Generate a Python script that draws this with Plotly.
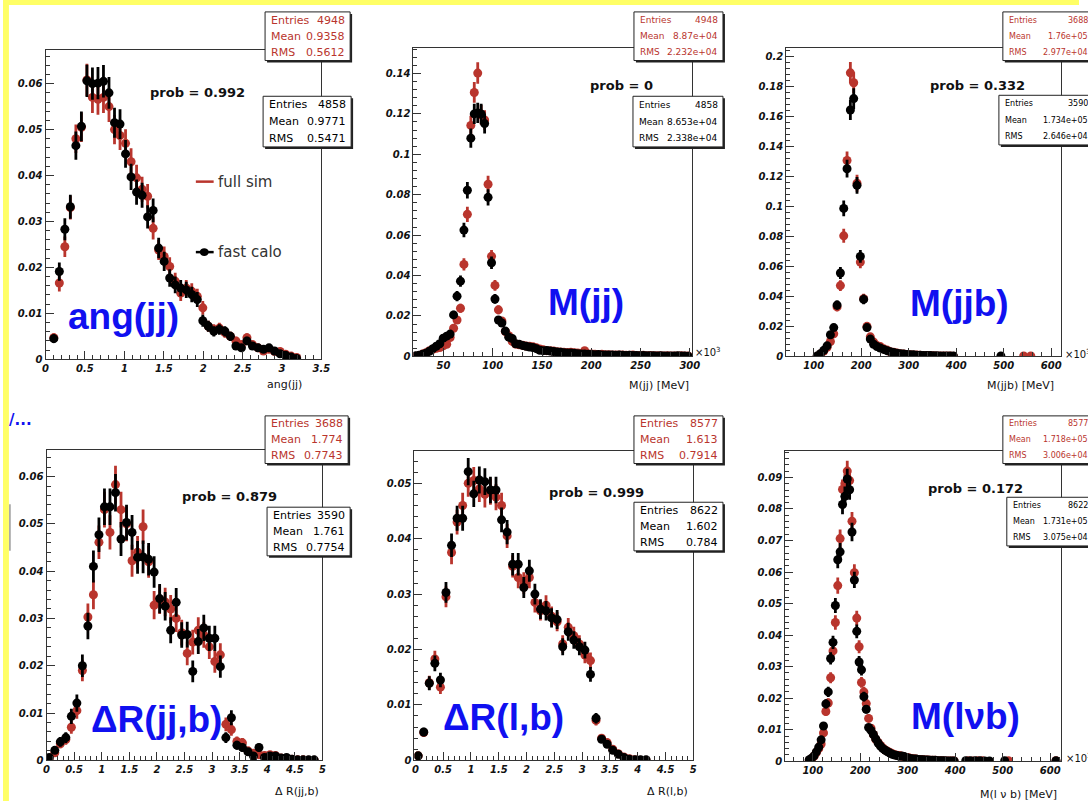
import numpy as np
import plotly.graph_objects as go

W, H = 1088, 807
RED = "#b9352d"
BLK = "#000000"
FRAME = "#333333"
BLUE = "#1010f0"

# ---------------- data ----------------
# Panel 1: ang(jj)
ang_x = [0.105,0.175,0.245,0.315,0.385,0.455,0.525,0.595,0.665,0.735,0.805,0.875,0.945,1.015,1.085,
         1.155,1.225,1.295,1.365,1.435,1.505,1.575,1.645,1.715,1.785,1.855,1.925,1.995,2.065,2.135,
         2.205,2.275,2.345,2.415,2.485,2.555,2.625,2.695,2.765,2.835,2.905,2.975,3.045,3.115,3.185]
ang_fast = [0.0045,0.0191,0.0283,0.0332,0.0465,0.0507,0.0606,0.0600,0.0601,0.0605,0.0580,0.0515,0.0512,0.0447,0.0397,
            0.0364,0.0357,0.0310,0.0324,0.0242,0.0213,0.0177,0.0162,0.0155,0.0151,0.0141,0.0130,0.0084,0.0072,0.0061,
            0.0065,0.0061,0.0050,0.0029,0.0025,0.0040,0.0029,0.0025,0.0022,0.0025,0.0018,0.0012,0.0009,0.0005,0.0002]
ang_full = [0.0047,0.0166,0.0245,0.0330,0.0480,0.0505,0.0608,0.0570,0.0566,0.0570,0.0550,0.0500,0.0487,0.0470,0.0430,
            0.0395,0.0370,0.0355,0.0285,0.0238,0.0224,0.0202,0.0170,0.0144,0.0155,0.0148,0.0137,0.0112,0.0072,0.0065,
            0.0068,0.0058,0.0050,0.0040,0.0032,0.0047,0.0032,0.0025,0.0018,0.0022,0.0017,0.0017,0.0011,0.0007,0.0004]

# Panel 2: M(jj) [x10^3 MeV]
mjj_x = [21.75,25.25,28.75,32.25,35.75,39.25,42.75,46.25,49.75,53.25,56.75,60.25,63.75,67.25,70.75,74.25,77.75,81.25,84.75,88.25,
         91.75,95.25,98.75,102.25,105.75,109.25,112.75,116.25,119.75,123.25,126.75,130.25,133.75,137.25,140.75,144.25,147.75,151.25,154.75,158.25,
         161.75,165.25,168.75,172.25,175.75,179.25,182.75,186.25,189.75,193.25,196.75,200.25,203.75,207.25,210.75,214.25,217.75,221.25,224.75,228.25,
         231.75,235.25,238.75,242.25,245.75,249.25,252.75,256.25,259.75,263.25,266.75,270.25,273.75,277.25,280.75,284.25,287.75,291.25,294.75,298.25]
mjj_fast = [0.0003,0.0005,0.0010,0.0015,0.0025,0.0038,0.0050,0.0062,0.0090,0.0100,
            0.0110,0.0205,0.0298,0.0372,0.0625,0.0822,0.1080,0.1200,0.1205,0.1200,
            0.1152,0.0787,0.0463,0.0284,0.0180,0.0165,0.0125,0.0095,0.0088,0.0062,
            0.0060,0.0054,0.0050,0.0046,0.0044,0.0038,0.0030,0.0028,0.0029,0.0026,
            0.0024,0.0022,0.0020,0.0018,0.0016,0.0017,0.0015,0.0013,0.0012,0.0011,
            0.0010,0.0009,0.0008,0.0009,0.0007,0.0007,0.0006,0.0006,0.0005,0.0006,
            0.0005,0.0004,0.0005,0.0004,0.0004,0.0003,0.0004,0.0003,0.0003,0.0003,
            0.0002,0.0003,0.0002,0.0002,0.0002,0.0002,0.0003,0.0002,0.0002,0.0001]
mjj_full = [0.0000,0.0003,0.0011,0.0018,0.0028,0.0035,0.0040,0.0044,0.0052,0.0060,
            0.0093,0.0139,0.0180,0.0238,0.0455,0.0703,0.1143,0.1306,0.1402,0.1195,
            0.1170,0.0852,0.0495,0.0351,0.0230,0.0175,0.0123,0.0102,0.0074,0.0061,
            0.0057,0.0055,0.0051,0.0050,0.0048,0.0042,0.0036,0.0032,0.0028,0.0027,
            0.0026,0.0023,0.0022,0.0020,0.0019,0.0020,0.0018,0.0016,0.0014,0.0028,
            0.0012,0.0011,0.0010,0.0009,0.0010,0.0008,0.0008,0.0007,0.0006,0.0007,
            0.0006,0.0005,0.0005,0.0006,0.0004,0.0004,0.0005,0.0003,0.0004,0.0003,
            0.0003,0.0003,0.0002,0.0003,0.0002,0.0002,0.0002,0.0003,0.0002,0.0002]

# Panel 3: M(jjb) [x10^3 MeV]
mjjb_x = [107,114,121,128,135,142,149,156,163,170,177,184,191,198,205,212,219,226,233,240,
          247,254,261,268,275,282,289,296,303,310,317,324,331,338,345,352,359,366,373,380,387,394]
mjjb_fast = [0.0003,0.0018,0.0040,0.0070,0.0144,0.0192,0.0342,0.0556,0.0987,0.1252,
             0.1644,0.1720,0.1141,0.0667,0.0380,0.0192,0.0115,0.0081,0.0065,0.0055,
             0.0046,0.0038,0.0031,0.0026,0.0021,0.0018,0.0015,0.0013,0.0011,0.0010,
             0.0008,0.0007,0.0006,0.0006,0.0005,0.0004,0.0004,0.0003,0.0003,0.0002,0.0002,0.0002]
mjjb_full = [0.0000,0.0015,0.0035,0.0060,0.0099,0.0150,0.0330,0.0472,0.0804,0.1307,
             0.1892,0.1826,0.1155,0.0629,0.0385,0.0200,0.0130,0.0095,0.0072,0.0065,
             0.0050,0.0042,0.0030,0.0028,0.0022,0.0018,0.0016,0.0012,0.0011,0.0009,
             0.0009,0.0007,0.0006,0.0005,0.0005,0.0004,0.0003,0.0003,0.0003,0.0002,0.0002,0.0001]
mjjb_fast_tail_x = [494]
mjjb_fast_tail_y = [0.0003]
mjjb_full_tail_x = [542, 557]
mjjb_full_tail_y = [0.0002, 0.0002]

# Panel 4: dR(jj,b)
drjjb_x = [0.05,0.15,0.25,0.35,0.45,0.55,0.65,0.75,0.85,0.95,1.05,1.15,1.25,1.35,1.45,1.55,1.65,1.75,1.85,1.95,
           2.05,2.15,2.25,2.35,2.45,2.55,2.65,2.75,2.85,2.95,3.05,3.15,3.25,3.35,3.45,3.55,3.65,3.75,3.85,3.95,
           4.05,4.15,4.25,4.35,4.45,4.55,4.65,4.75,4.85]
drjjb_fast = [0.0006,0.0021,0.0039,0.0048,0.0093,0.0121,0.0200,0.0284,0.0410,0.0477,
              0.0536,0.0536,0.0566,0.0468,0.0503,0.0482,0.0429,0.0430,0.0425,0.0398,
              0.0342,0.0326,0.0275,0.0334,0.0265,0.0266,0.0188,0.0251,0.0280,0.0258,
              0.0258,0.0198,0.0048,0.0090,0.0032,0.0027,0.0018,0.0009,0.0027,0.0006,
              0.0009,0.0009,0.0005,0.0006,0.0002,0.0001,0.0001,0.0001,0.0001]
drjjb_full = [0.0001,0.0016,0.0035,0.0044,0.0070,0.0105,0.0190,0.0303,0.0350,0.0461,
              0.0530,0.0482,0.0583,0.0530,0.0500,0.0422,0.0440,0.0494,0.0420,0.0328,
              0.0340,0.0335,0.0320,0.0300,0.0270,0.0226,0.0250,0.0275,0.0265,0.0240,
              0.0209,0.0223,0.0076,0.0065,0.0040,0.0037,0.0020,0.0015,0.0012,0.0010,
              0.0012,0.0010,0.0005,0.0003,0.0002,0.0001,0.0001,0.0000,0.0000]

# Panel 5: dR(l,b)
drlb_x = [0.05,0.15,0.25,0.35,0.45,0.55,0.65,0.75,0.85,0.95,1.05,1.15,1.25,1.35,1.45,1.55,1.65,1.75,1.85,1.95,
          2.05,2.15,2.25,2.35,2.45,2.55,2.65,2.75,2.85,2.95,3.05,3.15,3.25,3.35,3.45,3.55,3.65,3.75,3.85,3.95,
          4.05,4.15]
drlb_fast = [0.0008,0.0051,0.0139,0.0175,0.0145,0.0303,0.0388,0.0437,0.0437,0.0521,
             0.0481,0.0506,0.0503,0.0488,0.0488,0.0434,0.0412,0.0354,0.0354,0.0312,
             0.0342,0.0300,0.0273,0.0270,0.0257,0.0254,0.0205,0.0232,0.0217,0.0205,
             0.0199,0.0155,0.0076,0.0038,0.0029,0.0018,0.0011,0.0005,0.0002,0.0001,
             0.0001,0.0001]
drlb_full = [0.0008,0.0050,0.0140,0.0183,0.0132,0.0295,0.0375,0.0430,0.0460,0.0500,
             0.0505,0.0490,0.0480,0.0485,0.0475,0.0460,0.0405,0.0350,0.0330,0.0320,
             0.0330,0.0285,0.0270,0.0280,0.0260,0.0250,0.0210,0.0240,0.0225,0.0210,
             0.0190,0.0180,0.0072,0.0040,0.0032,0.0020,0.0012,0.0006,0.0003,0.0001,
             0.0000,0.0000]

# Panel 6: M(l nu b) [x10^3 MeV]
mlvb_x = [92.5,97.5,102.5,107.5,112.5,117.5,122.5,127.5,132.5,137.5,142.5,147.5,152.5,157.5,162.5,167.5,172.5,177.5,182.5,187.5,
          192.5,197.5,202.5,207.5,212.5,217.5,222.5,227.5,232.5,237.5,242.5,247.5,252.5,257.5,262.5,267.5,272.5,277.5,282.5,287.5,
          292.5,297.5,302.5,307.5,312.5,317.5,322.5,327.5,332.5,337.5,342.5,347.5,352.5,357.5,362.5,367.5,372.5,377.5,382.5,387.5,
          392.5,397.5]
mlvb_fast = [0.0005,0.0010,0.0017,0.0030,0.0045,0.0068,0.0112,0.0182,0.0220,0.0326,
             0.0377,0.0494,0.0639,0.0664,0.0814,0.0840,0.0895,0.0861,0.0727,0.0575,
             0.0412,0.0315,0.0290,0.0205,0.0165,0.0107,0.0098,0.0085,0.0071,0.0058,
             0.0048,0.0040,0.0035,0.0030,0.0026,0.0022,0.0020,0.0018,0.0016,0.0017,
             0.0015,0.0012,0.0010,0.0008,0.0007,0.0007,0.0006,0.0005,0.0005,0.0004,
             0.0004,0.0003,0.0003,0.0003,0.0002,0.0002,0.0002,0.0002,0.0001,0.0001,
             0.0001,0.0001]
mlvb_full = [0.0003,0.0008,0.0016,0.0028,0.0040,0.0055,0.0090,0.0158,0.0185,0.0265,
             0.0350,0.0440,0.0557,0.0706,0.0862,0.0880,0.0920,0.0890,0.0761,0.0598,
             0.0454,0.0363,0.0250,0.0220,0.0183,0.0136,0.0105,0.0085,0.0070,0.0060,
             0.0050,0.0042,0.0036,0.0032,0.0028,0.0024,0.0021,0.0019,0.0018,0.0016,
             0.0014,0.0012,0.0011,0.0009,0.0008,0.0007,0.0006,0.0006,0.0005,0.0004,
             0.0004,0.0003,0.0003,0.0003,0.0002,0.0002,0.0002,0.0001,0.0001,0.0001,
             0.0001,0.0001]
mlvb_fast_tail_x = [422, 432, 442, 452, 462, 472, 504, 612]
mlvb_fast_tail_y = [0.0002, 0.0002, 0.0002, 0.0002, 0.0001, 0.0001, 0.0002, 0.0002]
mlvb_full_tail_x = [427, 437, 447, 457, 512, 612]
mlvb_full_tail_y = [0.0002, 0.0001, 0.0002, 0.0002, 0.0002, 0.0002]

# Titles / labels
panel_titles = ["ang(jj)", "M(jj)", "M(jjb)", "ΔR(jj,b)", "ΔR(l,b)", "M(lνb)"]
axis_titles = ["ang(jj)", "M(jj) [MeV]", "M(jjb) [MeV]", "Δ R(jj,b)", "Δ R(l,b)", "M(l ν b) [MeV]"]
prob_values = ["0.992", "0", "0.332", "0.879", "0.999", "0.172"]

# Stats boxes: (entries, mean, rms)
stats_full = [("4948", "0.9358", "0.5612"), ("4948", "8.87e+04", "2.232e+04"), ("3688", "1.76e+05", "2.977e+04"),
              ("3688", "1.774", "0.7743"), ("8577", "1.613", "0.7914"), ("8577", "1.718e+05", "3.006e+04")]
stats_fast = [("4858", "0.9771", "0.5471"), ("4858", "8.653e+04", "2.338e+04"), ("3590", "1.734e+05", "2.646e+04"),
              ("3590", "1.761", "0.7754"), ("8622", "1.602", "0.784"), ("8622", "1.731e+05", "3.075e+04")]

legend_labels = ["full sim", "fast calo"]

# ---------------- layout (pixel geometry) ----------------
panels = [
    dict(xs=(ang_x, ang_x), ys=(ang_full, ang_fast), frame=(43, 322, 50, 362), xr=[0, 3.5], yr=[0, 0.0674],
         xd=0.5, xm=0.1, yd=0.01, ym=0.002, red_box=(265, 12, 351, 61), blk_box=(263, 97, 352, 148), sfs=11,
         title_c=(122, 319), prob_c=(197, 93), xt_c=(285, 387), x10=None),
    dict(xs=(mjj_x, mjj_x), ys=(mjj_full, mjj_fast), frame=(415, 697, 48, 359), xr=[19.5, 302.5], yr=[0, 0.1528],
         xd=50, xm=10, yd=0.02, ym=0.004, red_box=(638, 12, 728, 61), blk_box=(637, 97, 728, 148), sfs=9,
         title_c=(590, 305), prob_c=(625, 86), xt_c=(663, 388), x10=(698, 355)),
    dict(xs=(mjjb_x + mjjb_full_tail_x, mjjb_x + mjjb_fast_tail_x),
         ys=(mjjb_full + mjjb_full_tail_y, mjjb_fast + mjjb_fast_tail_y),
         frame=(792, 1070, 48, 359), xr=[42, 621], yr=[0, 0.206],
         xd=100, xm=20, yd=0.02, ym=0.004, red_box=(1011, 12, 1102, 61), blk_box=(1007, 96, 1102, 146), sfs=8,
         title_c=(967, 306), prob_c=(985, 86), xt_c=(1029, 388), x10=(1072, 357)),
    dict(xs=(drjjb_x, drjjb_x), ys=(drjjb_full, drjjb_fast), frame=(44, 323, 453, 766), xr=[0, 5], yr=[0, 0.0657],
         xd=0.5, xm=0.1, yd=0.01, ym=0.002, red_box=(265, 419, 349, 467), blk_box=(267, 511, 351, 560), sfs=11,
         title_c=(155, 725), prob_c=(229, 500), xt_c=(297, 797), x10=None),
    dict(xs=(drlb_x, drlb_x), ys=(drlb_full, drlb_fast), frame=(416, 698, 454, 766), xr=[-0.018, 5], yr=[0, 0.0559],
         xd=0.5, xm=0.1, yd=0.01, ym=0.002, red_box=(638, 419, 728, 467), blk_box=(638, 506, 728, 555), sfs=11,
         title_c=(506, 723), prob_c=(600, 496), xt_c=(672, 797), x10=None),
    dict(xs=(mlvb_x + mlvb_full_tail_x, mlvb_x + mlvb_fast_tail_x),
         ys=(mlvb_full + mlvb_full_tail_y, mlvb_fast + mlvb_fast_tail_y),
         frame=(791, 1070, 454, 767), xr=[42, 623], yr=[0, 0.0985],
         xd=100, xm=20, yd=0.01, ym=0.002, red_box=(1011, 419, 1102, 467), blk_box=(1015, 501, 1102, 550), sfs=8,
         title_c=(973, 722), prob_c=(983, 492), xt_c=(1027, 800), x10=(1073, 764)),
]


def fx(x):
    return x / W


def fy(y):
    return 1 - y / H


TICKFONT = dict(family="DejaVu Sans", size=10, color="#111111", weight="bold", style="italic")

fig = go.Figure()
layout = dict(width=W, height=H, margin=dict(l=0, r=0, t=0, b=0),
              paper_bgcolor="white", plot_bgcolor="white", showlegend=False)
shapes = []
annotations = []

for i, p in enumerate(panels, start=1):
    sx = "" if i == 1 else str(i)
    xa, ya = "x" + sx, "y" + sx
    n_full = float(stats_full[i - 1][0])
    n_fast = float(stats_fast[i - 1][0])
    for xs, ys, n, col in [(p["xs"][0], p["ys"][0], n_full, RED), (p["xs"][1], p["ys"][1], n_fast, BLK)]:
        yarr = np.array(ys, dtype=float)
        err = np.sqrt(yarr / n)
        fig.add_trace(go.Scatter(
            x=xs, y=ys, mode="markers", xaxis=xa, yaxis=ya,
            marker=dict(color=col, size=9, line=dict(width=0)),
            error_y=dict(type="data", array=err, color=col, thickness=2.8, width=0),
            hoverinfo="skip", showlegend=False))
    l, r, t, b = p["frame"]
    common = dict(showline=True, linecolor=FRAME, linewidth=1, mirror=True,
                  ticks="inside", ticklen=8, tickwidth=1, tickcolor=FRAME,
                  showgrid=False, zeroline=False, fixedrange=True, tickfont=TICKFONT)
    layout["xaxis" + sx] = dict(common, domain=[fx(l), fx(r)], range=p["xr"], anchor=ya,
                                tick0=0, dtick=p["xd"],
                                minor=dict(ticks="inside", ticklen=4, tickcolor=FRAME, dtick=p["xm"], tick0=0, showgrid=False))
    layout["yaxis" + sx] = dict(common, domain=[fy(b), fy(t)], range=p["yr"], anchor=xa,
                                tick0=0, dtick=p["yd"],
                                minor=dict(ticks="inside", ticklen=4, tickcolor=FRAME, dtick=p["ym"], tick0=0, showgrid=False))

    # stats boxes
    for box, vals, col in [(p["red_box"], stats_full[i - 1], RED), (p["blk_box"], stats_fast[i - 1], BLK)]:
        x0, y0, x1, y1 = box
        shapes.append(dict(type="rect", xref="paper", yref="paper", x0=fx(x0 + 2), x1=fx(x1 + 2), y0=fy(y1 + 2), y1=fy(y0 + 2),
                           fillcolor="#222222", line=dict(width=0), layer="above"))
        shapes.append(dict(type="rect", xref="paper", yref="paper", x0=fx(x0), x1=fx(x1), y0=fy(y1), y1=fy(y0),
                           fillcolor="white", line=dict(color="#222222", width=1), layer="above"))
        hgt = y1 - y0
        for k, lab in enumerate(["Entries", "Mean", "RMS"]):
            yy = y0 + hgt * (2 * k + 1) / 6
            annotations.append(dict(x=fx(x0 + 4), y=fy(yy), xref="paper", yref="paper", text=lab, showarrow=False,
                                    xanchor="left", yanchor="middle", font=dict(family="DejaVu Sans", size=p["sfs"], color=col)))
            annotations.append(dict(x=fx(x1 - 3), y=fy(yy), xref="paper", yref="paper", text=vals[k], showarrow=False,
                                    xanchor="right", yanchor="middle", font=dict(family="DejaVu Sans", size=p["sfs"], color=col)))

    # panel big title
    cx, cy = p["title_c"]
    annotations.append(dict(x=fx(cx), y=fy(cy), xref="paper", yref="paper", text="<b>" + panel_titles[i - 1] + "</b>",
                            showarrow=False, xanchor="center", yanchor="middle",
                            font=dict(family="Liberation Sans", size=37, color=BLUE)))
    # prob
    cx, cy = p["prob_c"]
    annotations.append(dict(x=fx(cx), y=fy(cy), xref="paper", yref="paper", text="<b>prob = " + prob_values[i - 1] + "</b>",
                            showarrow=False, xanchor="center", yanchor="middle",
                            font=dict(family="DejaVu Sans", size=13, color="#111111")))
    # axis title
    cx, cy = p["xt_c"]
    annotations.append(dict(x=fx(cx), y=fy(cy), xref="paper", yref="paper", text=axis_titles[i - 1],
                            showarrow=False, xanchor="center", yanchor="middle",
                            font=dict(family="DejaVu Sans", size=11, color="#111111")))
    if p["x10"] is not None:
        cx, cy = p["x10"]
        annotations.append(dict(x=fx(cx), y=fy(cy), xref="paper", yref="paper", text="×10<sup>3</sup>",
                                showarrow=False, xanchor="left", yanchor="middle",
                                font=dict(family="DejaVu Sans", size=10, color="#111111")))

# legend in panel 1
shapes.append(dict(type="line", xref="paper", yref="paper", x0=fx(195), x1=fx(213), y0=fy(183), y1=fy(183),
                   line=dict(color=RED, width=2.5), layer="above"))
shapes.append(dict(type="line", xref="paper", yref="paper", x0=fx(195), x1=fx(213), y0=fy(254), y1=fy(254),
                   line=dict(color=BLK, width=2.5), layer="above"))
shapes.append(dict(type="circle", xref="paper", yref="paper", x0=fx(199), x1=fx(208), y0=fy(258), y1=fy(250),
                   fillcolor=BLK, line=dict(color=BLK, width=0), layer="above"))
for lab, yy in zip(legend_labels, [183, 254]):
    annotations.append(dict(x=fx(215), y=fy(yy), xref="paper", yref="paper", text=lab, showarrow=False,
                            xanchor="left", yanchor="middle", font=dict(family="DejaVu Sans", size=15, color="#333333")))

# slide decorations (yellow frame, cut-off slide text)
shapes.append(dict(type="rect", xref="paper", yref="paper", x0=0, x1=1, y0=fy(5), y1=1,
                   fillcolor="#ffff66", line=dict(width=0), layer="above"))
shapes.append(dict(type="rect", xref="paper", yref="paper", x0=0, x1=fx(6), y0=0, y1=1,
                   fillcolor="#ffff66", line=dict(width=0), layer="above"))
shapes.append(dict(type="line", xref="paper", yref="paper", x0=fx(7), x1=fx(7), y0=fy(555), y1=fy(508),
                   line=dict(color="#999999", width=1.5), layer="above"))
annotations.append(dict(x=fx(4), y=fy(423), xref="paper", yref="paper", text="<b>/...</b>", showarrow=False,
                        xanchor="left", yanchor="middle", font=dict(family="DejaVu Sans", size=15, color=BLUE)))

layout["shapes"] = shapes
layout["annotations"] = annotations
fig.update_layout(**layout)

fig.write_html("out.html", include_plotlyjs=True, config={"displayModeBar": False, "staticPlot": True},
               post_script="document.body.style.margin='0';document.body.style.overflow='hidden';")
